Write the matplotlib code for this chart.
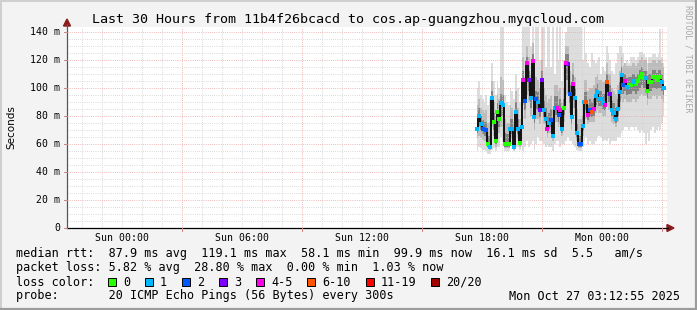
import numpy as np
import matplotlib
matplotlib.use("Agg")
import matplotlib.pyplot as plt
from matplotlib.patches import Rectangle
from matplotlib.lines import Line2D

# ---------------- data ----------------
title = "Last 30 Hours from 11b4f26bcacd to cos.ap-guangzhou.myqcloud.com"
# hours relative to Sun 00:00
x_start, x_end = -2.735, 27.265
data_t0, data_t1 = 17.77, 27.12
xtick_hours = [0, 6, 12, 18, 24]
xtick_labels = ["Sun 00:00", "Sun 06:00", "Sun 12:00", "Sun 18:00", "Mon 00:00"]
ytick_vals = [0, 20, 40, 60, 80, 100, 120, 140]
ytick_labels = ["0", "20 m", "40 m", "60 m", "80 m", "100 m", "120 m", "140 m"]

median = [71,80,74,71,70,70,60,58,93,76, 62,83,78,89,88,60,60,60,71,71,
          58,83,71,61,72,106,91,118,106,93, 119,79,92,90,84,106,84,78,71,75,
          77,66,86,86,81,84,71,86,118,117, 96,79,103,93,68,60,60,73,90,90,
          81,84,83,85,94,97,92,92,89,88, 104,96,96,84,82,78,85,97,109,102,
          105,101,102,102,104,105,103,105,108,110, 107,107,98,104,104,108,108,106,108,108,
          104,100]
loss_bucket = [1,1,1,2,1,2,0,1,1,0, 0,0,0,1,1,0,0,0,1,1,
               1,1,1,0,1,4,2,4,3,1, 4,1,2,1,3,3,1,1,4,1,
               2,1,1,4,2,4,1,0,4,3, 2,1,4,1,1,2,2,1,1,5,
               4,2,5,4,1,1,1,1,1,4, 5,1,3,1,1,1,1,1,1,2,
               4,1,0,0,1,1,0,0,0,0, 0,1,0,0,0,0,0,0,0,0,
               1,1]
ping_min = [55,58,57,56,56,55,53,53,56,57, 55,58,58,65,62,55,55,55,60,60,
            55,58,58,56,58,55,58,62,58,60, 62,56,60,65,62,62,60,58,60,58,
            58,55,60,62,62,58,60,60,62,65, 62,62,60,58,56,55,55,58,62,65,
            60,62,60,60,62,65,66,65,62,63, 62,64,60,62,62,62,65,65,68,70,
            72,72,70,72,72,70,72,70,68,70, 68,60,68,62,70,72,68,70,72,70,
            75,80]
smoke_lo = [64,66,64,63,62,62,57,56,72,66, 58,68,68,72,72,57,57,57,64,64,
            56,70,64,58,64,88,78,95,90,80, 98,70,78,78,74,88,74,70,65,68,
            68,62,76,76,72,74,66,76,95,96, 82,70,86,80,62,57,57,66,78,78,
            74,76,76,76,82,84,82,82,80,80, 88,84,84,76,74,72,76,84,92,90,
            92,90,90,90,92,92,90,92,94,96, 94,94,88,92,92,94,94,92,94,94,
            92,90]
core_lo = [68,74,70,67,66,66,58,57,80,70, 60,74,72,80,80,58,58,58,67,67,
           57,76,67,59,68,97,84,106,98,86, 108,74,85,84,79,97,79,74,68,71,
           72,64,81,81,76,79,68,81,106,106, 89,74,95,86,65,58,58,69,84,84,
           77,80,79,80,88,90,87,87,84,84, 96,90,90,80,78,75,80,90,100,96,
           98,95,96,96,98,98,96,98,100,102, 100,100,93,98,98,100,100,99,100,100,
           98,95]
core_hi = [78,86,80,77,76,76,66,66,98,82, 70,89,84,96,95,68,67,67,78,78,
           66,90,78,68,80,112,98,122,112,100, 124,86,98,97,91,112,91,86,80,82,
           85,74,94,94,88,92,78,92,124,124, 102,86,110,100,75,66,66,80,97,97,
           88,92,90,92,100,103,98,98,96,96, 110,102,102,91,89,86,92,104,115,108,
           110,107,108,108,110,110,108,110,113,115, 112,112,104,110,110,113,113,111,113,113,
           110,106]
smoke_hi = [88,92,86,84,82,84,75,76,105,90, 80,96,92,108,106,78,75,75,88,86,
            76,98,86,78,90,122,108,130,122,110, 132,96,108,106,100,120,100,95,90,92,
            94,85,102,102,98,100,90,100,130,130, 112,96,118,108,85,78,78,90,106,106,
            98,100,100,102,108,110,106,106,104,104, 118,110,110,100,98,96,102,112,122,116,
            118,116,116,116,118,118,116,118,120,122, 120,120,112,118,118,120,120,118,120,120,
            118,115]
ping_max = [100,105,95,92,90,95,88,92,118,105, 95,105,100,145,145,95,90,88,100,98,
            92,110,100,90,100,145,145,145,145,130, 145,110,145,145,120,145,145,115,145,145,
            115,145,110,145,120,145,105,120,140,145, 145,145,145,145,145,145,145,120,145,125,
            118,115,125,120,118,120,122,110,115,112, 130,125,120,112,110,118,125,130,130,125,
            118,120,118,122,122,122,120,122,126,126, 124,122,118,122,122,124,124,122,124,142,
            122,118]

loss_labels = ["0", "1", "2", "3", "4-5", "6-10", "11-19", "20/20"]
loss_colors = ["#26ff00", "#00b8ff", "#0059ff", "#7e00ff", "#ff00ea", "#ff5500", "#ff0000", "#a10000"]

legend_rtt = "median rtt:  87.9 ms avg  119.1 ms max  58.1 ms min  99.9 ms now  16.1 ms sd  5.5   am/s"
legend_loss = "packet loss: 5.82 % avg  28.80 % max  0.00 % min  1.03 % now"
legend_probe = "probe:       20 ICMP Echo Pings (56 Bytes) every 300s"
stamp = "Mon Oct 27 03:12:55 2025"

# ---------------- figure ----------------
W, H = 697, 310
fig = plt.figure(figsize=(W / 100, H / 100), dpi=100, facecolor="#f3f3f3")

def fx(px):
    return px / W

def fy(py):
    return 1 - py / H

MONO = "DejaVu Sans Mono"

# plot area: x 67..667 px, y 228 (0) .. 27 (top)
ymax = 201 / 1.4
ax = fig.add_axes([fx(67), fy(228), 600 / W, 201 / H])
ax.set_facecolor("white")
ax.set_xlim(x_start, x_end)
ax.set_ylim(0, ymax)
for s in ax.spines.values():
    s.set_visible(False)
ax.set_xticks([])
ax.set_yticks([])

t = np.linspace(data_t0, data_t1, len(median))
med = np.array(median, dtype=float)

# smoke
ax.fill_between(t, ping_min, ping_max, step="mid", color="#dddddd", lw=0, zorder=1)
ax.fill_between(t, smoke_lo, smoke_hi, step="mid", color="#bcbcbc", lw=0, zorder=1.2)
ax.fill_between(t, core_lo, core_hi, step="mid", color="#838383", lw=0, zorder=1.3)

# grid
dots = (0, (0.72, 1.44))
for h in range(-2, 28):
    if (h - 3) % 6 == 0:
        continue
    ax.axvline(h, color="#cfcfcf", lw=0.72, ls=dots, zorder=2)
for h in [3, 9, 15, 21, 27]:
    ax.axvline(h, color="#eba3a3", lw=0.72, ls=dots, zorder=2.1)
for v in np.arange(5, 145, 5):
    if v % 20 == 0:
        continue
    ax.axhline(v, color="#cfcfcf", lw=0.72, ls=dots, zorder=2)
for v in ytick_vals[1:]:
    ax.axhline(v, color="#eba3a3", lw=0.72, ls=dots, zorder=2.1)

# median line + loss colored dots
ax.plot(t, med, drawstyle="steps-mid", color="#111111", lw=1.4, zorder=3)
for b, col in enumerate(loss_colors):
    sel = np.array(loss_bucket) == b
    if sel.any():
        ax.plot(t[sel], med[sel], ls="none", marker="s", ms=2.3, mew=0,
                color=col, zorder=4)

# axes lines with arrows (figure coordinates)
fig.add_artist(Line2D([fx(67), fx(668)], [fy(228), fy(228)], color="black", lw=0.9))
fig.add_artist(Line2D([fx(67), fx(67)], [fy(228), fy(24)], color="#555555", lw=0.9))
fig.patches.append(plt.Polygon([[fx(667), fy(224.5)], [fx(674), fy(228)], [fx(667), fy(231.5)]],
                               closed=True, color="#8b1a1a", transform=fig.transFigure, figure=fig))
fig.patches.append(plt.Polygon([[fx(63.5), fy(26)], [fx(67), fy(19)], [fx(70.5), fy(26)]],
                               closed=True, color="#8b1a1a", transform=fig.transFigure, figure=fig))

# tick labels
for v, lab in zip(ytick_vals, ytick_labels):
    py = 228 - v * 1.4
    fig.text(fx(60), fy(py), lab, ha="right", va="center", fontsize=7.1,
             family=MONO, color="black")
    fig.add_artist(Line2D([fx(64), fx(67)], [fy(py), fy(py)], color="#d08080", lw=0.7))
for h, lab in zip(xtick_hours, xtick_labels):
    px = 67 + (h - x_start) * 20
    fig.text(fx(px), fy(238), lab, ha="center", va="center", fontsize=7.1,
             family=MONO, color="black")
for h in [3, 9, 15, 21, 27]:
    px = 67 + (h - x_start) * 20
    fig.add_artist(Line2D([fx(px), fx(px)], [fy(228), fy(231)], color="#d08080", lw=0.7))

# title & labels
fig.text(fx(92), fy(19), title, ha="left", va="center", fontsize=9.6, family=MONO)
fig.text(fx(11), fy(127), "Seconds", ha="center", va="center", rotation=90,
         fontsize=7.5, family="DejaVu Sans")
fig.text(fx(688), fy(5), "RRDTOOL / TOBI OETIKER", ha="center", va="top", rotation=270,
         fontsize=5.9, family=MONO, color="#a8a8a8")

# legend block
fig.text(fx(16), fy(254), legend_rtt, ha="left", va="center", fontsize=8.5, family=MONO)
fig.text(fx(16), fy(268), legend_loss, ha="left", va="center", fontsize=8.5, family=MONO)
fig.text(fx(16), fy(282), "loss color:", ha="left", va="center", fontsize=8.5, family=MONO)
box_x = [108.3, 145.0, 182.3, 219.0, 256.0, 307.3, 365.7, 430.7]
for bx, lab, col in zip(box_x, loss_labels, loss_colors):
    fig.patches.append(Rectangle((fx(bx), fy(286)), 8 / W, 8 / H, facecolor=col,
                                 edgecolor="black", lw=0.7, transform=fig.transFigure, figure=fig))
    fig.text(fx(bx + 15), fy(282), lab, ha="left", va="center", fontsize=8.5, family=MONO)
fig.text(fx(16), fy(296), legend_probe, ha="left", va="center", fontsize=8.5, family=MONO)
fig.text(fx(680), fy(296), stamp, ha="right", va="center", fontsize=8.5, family=MONO)

# outer frame
fig.add_artist(Line2D([0, 1], [fy(0.5), fy(0.5)], color="#cfcfcf", lw=1.4))
fig.add_artist(Line2D([fx(0.5), fx(0.5)], [0, 1], color="#cfcfcf", lw=1.4))
fig.add_artist(Line2D([0, 1], [fy(309), fy(309)], color="#9c9c9c", lw=1.6))
fig.add_artist(Line2D([fx(696), fx(696)], [0, 1], color="#9c9c9c", lw=1.6))

fig.savefig("out.png", dpi=100, facecolor=fig.get_facecolor())
